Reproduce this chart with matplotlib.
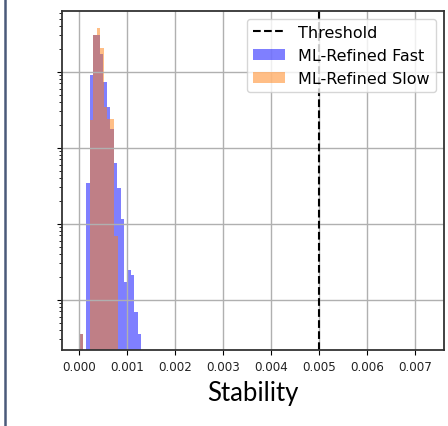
import matplotlib.pyplot as plt
import numpy as np
from matplotlib.lines import Line2D


# bin ranges and normalised heights of the two stability histograms
fast_range = (0.0, 0.00129)
fast_density = [0.35, 0, 34, 897, 3040, 3040, 1690, 732, 343, 175, 63.5, 29.8,
                11.6, 1.71, 2.44, 2.09, 0.69, 0.35]
slow_range = (0.0, 0.0008)
slow_density = [0.35, 0, 0, 230, 3040, 3790, 2070, 343, 241, 241, 6.9]
threshold = 0.005
x_ticks = [0.000, 0.001, 0.002, 0.003, 0.004, 0.005, 0.006, 0.007]


def bin_edges(lo_hi, values):
    return np.linspace(lo_hi[0], lo_hi[1], len(values) + 1)


def main() -> None:
    fig = plt.figure(figsize=(4.48, 4.27), dpi=100)
    ax = fig.add_axes([0.1377, 0.178, 0.8533, 0.7946])

    ax.axvline(threshold, color="black", linestyle="--", linewidth=1.5, label="Threshold")

    fast_edges = bin_edges(fast_range, fast_density)
    slow_edges = bin_edges(slow_range, slow_density)
    ax.hist((fast_edges[:-1] + fast_edges[1:]) / 2, bins=fast_edges, weights=fast_density,
            color="blue", alpha=0.5, log=True, label="ML-Refined Fast")
    ax.hist((slow_edges[:-1] + slow_edges[1:]) / 2, bins=slow_edges, weights=slow_density,
            color="tab:orange", alpha=0.5, log=True, label="ML-Refined Slow")

    ax.set_xlim(-0.000367, 0.0076)
    ax.set_ylim(0.218, 6350)
    ax.set_xticks(x_ticks)
    ax.set_xticklabels([f"{t:.3f}" for t in x_ticks])
    ax.tick_params(axis="x", labelsize=8.6, labelcolor="#222222")
    ax.tick_params(axis="y", which="both", labelleft=False)
    ax.grid(True, which="major", color="#b0b0b0", linewidth=1.0)
    for sp in ax.spines.values():
        sp.set_linewidth(1.3)
        sp.set_color("#333333")

    ax.set_xlabel("Stability", fontsize=18.5, family=["Lato", "DejaVu Sans"], labelpad=5)
    ax.legend(loc="upper right", fontsize=11.5)

    # panel border on the left
    fig.add_artist(Line2D([0.0105, 0.0105], [0, 1], transform=fig.transFigure,
                          color="#4a5a7a", linewidth=1.8))

    fig.savefig("out.png", dpi=100)
    plt.close(fig)


if __name__ == "__main__":
    main()
